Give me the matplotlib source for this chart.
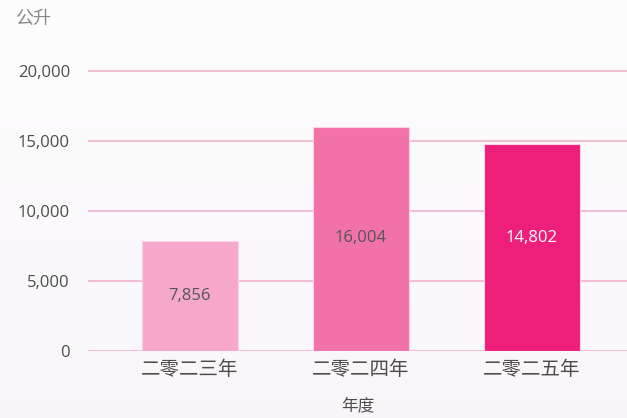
import matplotlib.pyplot as plt
import numpy as np

plt.rcParams['font.family'] = ['Open Sans', 'Noto Sans CJK SC', 'DejaVu Sans']

years = ['二零二三年', '二零二四年', '二零二五年']
values = [7856, 16004, 14802]
bar_colors = ['#f5a8ca', '#f072a9', '#ee1f7a']
text_colors = ['#555555', '#555555', '#ffffff']
y_ticks = [0, 5000, 10000, 15000, 20000]

fig = plt.figure(figsize=(6.27, 4.18), dpi=100)

# soft vertical background gradient
bg = fig.add_axes([0, 0, 1, 1], zorder=-10)
grad = np.linspace(0, 1, 256).reshape(-1, 1)
top = np.array([0.992, 0.992, 0.992])
bottom = np.array([0.980, 0.965, 0.980])
img = top + (bottom - top) * grad[:, :, None]
bg.imshow(img, aspect='auto', extent=[0, 1, 0, 1])
bg.axis('off')

# 14 px per 1000, zero at y=351 px, axes top at y=57 px -> 21000
ax = fig.add_axes([88 / 627, 1 - 351 / 418, 1 - 88 / 627, (351 - 57) / 418])
ax.patch.set_alpha(0)

x = np.arange(len(years))
ax.bar(x, values, width=0.56, color=bar_colors, edgecolor='#fbd3e3', linewidth=0.8, zorder=3)

for i, v in enumerate(values):
    label_y = v / 2 if v < 10000 else 8050
    ax.text(x[i], label_y, f'{v:,}', ha='center', va='center', fontsize=12,
            color=text_colors[i], zorder=4)

ax.set_ylim(0, 21000)
ax.set_xlim(-0.596, 2.556)
ax.set_yticks(y_ticks)
ax.set_yticklabels([f'{t:,}' for t in y_ticks])
ax.set_xticks(x)
ax.set_xticklabels(years, fontsize=14, family=['Noto Sans CJK SC'])
ax.grid(axis='y', color='#f2b3cc', linewidth=1.2, zorder=0)
ax.tick_params(axis='y', length=0, pad=13, labelsize=12, labelcolor='#4d4d4d')
ax.tick_params(axis='x', length=0, pad=6, labelcolor='#4d4d4d')
for s in ax.spines.values():
    s.set_visible(False)

ax.set_xlabel('年度', fontsize=12, color='#4d4d4d', labelpad=12, family=['Noto Sans CJK SC'])
fig.text(15 / 627, 1 - 19 / 418, '公升', fontsize=13, color='#8a8a8a', va='center',
         family=['Noto Sans CJK SC'])

fig.savefig('out.png', dpi=100)
